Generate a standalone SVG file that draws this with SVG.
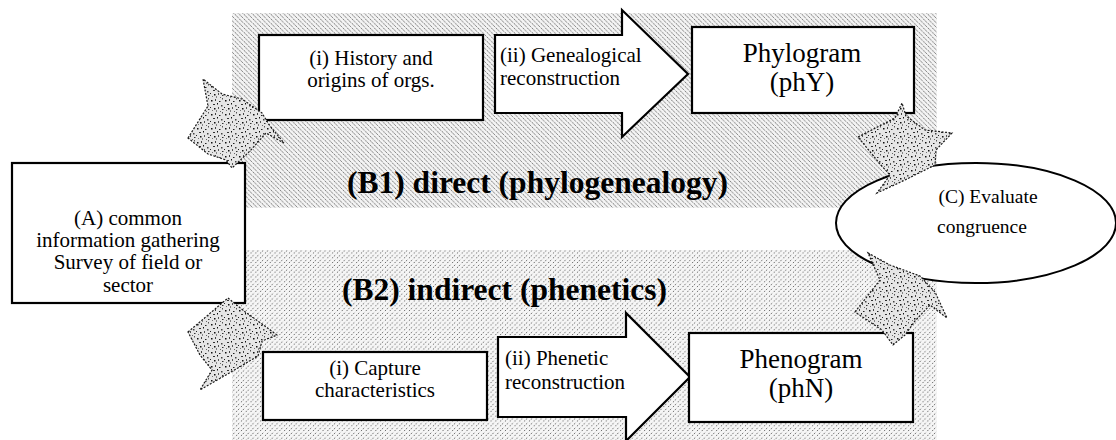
<svg xmlns="http://www.w3.org/2000/svg" width="1116" height="440" viewBox="0 0 1116 440">
<style>
  .box { fill: #ffffff; stroke: #000000; stroke-width: 2.2; }
  .t { font-family: "Liberation Serif", "Times New Roman", serif; fill: #000000; }
  .mid { text-anchor: middle; }
  .s21 { font-size: 21px; }
  .s27 { font-size: 27px; }
  .big { font-size: 31.5px; font-weight: bold; }
  .blob { fill: url(#speckle); stroke: #1a1a1a; stroke-width: 1.2; stroke-dasharray: 2 1.5; }
</style>
<defs>
  <pattern id="hatchTop" patternUnits="userSpaceOnUse" width="4.5" height="4.5">
    <rect width="4.5" height="4.5" fill="#f4f4f4"/>
    <path d="M-1,-1 L5.5,5.5 M-1,3.5 L1,5.5 M3.5,-1 L5.5,1" stroke="#2a2a2a" stroke-width="0.75" stroke-dasharray="1.8 1"/>
  </pattern>
  <pattern id="hatchBot" patternUnits="userSpaceOnUse" width="4.8" height="4.8">
    <rect width="4.8" height="4.8" fill="#f6f6f6"/>
    <path d="M-1,5.8 L5.8,-1 M-1,1 L1,-1 M3.8,5.8 L5.8,3.8" stroke="#2a2a2a" stroke-width="0.75" stroke-dasharray="1.5 1.3"/>
  </pattern>
  <pattern id="speckle" patternUnits="userSpaceOnUse" width="14" height="14">
    <rect width="14" height="14" fill="#e6e6e6"/>
    <rect x="1" y="2" width="1.5" height="1.5" fill="#111"/>
    <rect x="5" y="1" width="1" height="2" fill="#444"/>
    <rect x="9" y="3" width="1.5" height="1" fill="#222"/>
    <rect x="12" y="0" width="1" height="1.5" fill="#555"/>
    <rect x="3" y="6" width="2" height="1" fill="#333"/>
    <rect x="7" y="5" width="1" height="1.5" fill="#111"/>
    <rect x="11" y="7" width="1.5" height="1.5" fill="#444"/>
    <rect x="0" y="9" width="1" height="1" fill="#222"/>
    <rect x="4" y="10" width="1.5" height="1.5" fill="#111"/>
    <rect x="8" y="9" width="1" height="2" fill="#555"/>
    <rect x="12" y="11" width="1.5" height="1" fill="#333"/>
    <rect x="6" y="12.5" width="1" height="1" fill="#222"/>
    <rect x="2" y="12" width="1" height="1" fill="#777"/>
    <rect x="10" y="13" width="1" height="1" fill="#666"/>
  </pattern>
</defs>

<g id="bands">
  <rect x="232" y="13" width="705" height="195" fill="url(#hatchTop)"/>
  <rect x="232" y="250" width="705" height="190" fill="url(#hatchBot)"/>
</g>

<g id="labels-bands">
  <text class="t big" x="347" y="193">(B1) direct (phylogenealogy)</text>
  <text class="t big" x="342" y="300">(B2) indirect (phenetics)</text>
</g>

<g id="nodeA">
  <rect class="box" x="12" y="163" width="233" height="140"/>
  <text class="t s21 mid" x="128" y="225">(A) common</text>
  <text class="t s21 mid" x="128" y="247">information gathering</text>
  <text class="t s21 mid" x="128" y="269">Survey of field or</text>
  <text class="t s21 mid" x="128" y="292">sector</text>
</g>

<g id="nodeB1i">
  <rect class="box" x="259" y="35" width="224" height="85"/>
  <text class="t s21 mid" x="371" y="65">(i) History and</text>
  <text class="t s21 mid" x="371" y="87">origins of orgs.</text>
</g>

<g id="nodeB1ii">
  <polygon class="box" points="495,35 622,35 622,10 688,74 622,137 622,113 495,113"/>
  <text class="t s21" x="500" y="62">(ii) Genealogical</text>
  <text class="t s21" x="500" y="85">reconstruction</text>
</g>

<g id="nodePhY">
  <rect class="box" x="692" y="27" width="222" height="86"/>
  <text class="t s27 mid" x="802" y="62">Phylogram</text>
  <text class="t s27 mid" x="802" y="91">(phY)</text>
</g>

<g id="nodeB2i">
  <rect class="box" x="263" y="352" width="224" height="68"/>
  <text class="t s21 mid" x="375" y="375">(i) Capture</text>
  <text class="t s21 mid" x="375" y="397">characteristics</text>
</g>

<g id="nodeB2ii">
  <polygon class="box" points="498,337 626,337 626,313 690,377 626,441 626,417 498,417"/>
  <text class="t s21" x="505" y="365">(ii) Phenetic</text>
  <text class="t s21" x="505" y="389">reconstruction</text>
</g>

<g id="nodePhN">
  <rect class="box" x="689" y="333" width="224" height="89"/>
  <text class="t s27 mid" x="801" y="368">Phenogram</text>
  <text class="t s27 mid" x="801" y="397">(phN)</text>
</g>

<g id="nodeC">
  <ellipse cx="976" cy="223" rx="140" ry="60" fill="#ffffff" stroke="#000" stroke-width="2"/>
  <text class="t mid" font-size="19.5" x="988" y="203">(C) Evaluate</text>
  <text class="t mid" font-size="19.5" x="982" y="233">congruence</text>
</g>

<g id="connectors">
  <polygon class="blob" points="188,138 208,106 203,79 222,94 242,99 262,113 270,126 284,143 266,133 250,151 232,168 226,160 208,154"/>
  <polygon class="blob" points="188,332 228,298 244,311 262,324 277,335 262,341 258,356 226,375 200,390 212,370 200,355"/>
  <polygon class="blob" points="858,137 895,118 902,103 906,116 925,130 952,133 936,150 935,165 905,180 877,193 890,175 880,164"/>
  <polygon class="blob" points="855,312 880,280 868,253 890,265 920,276 935,292 947,318 930,305 915,321 905,335 893,345 882,330"/>
</g>
</svg>
